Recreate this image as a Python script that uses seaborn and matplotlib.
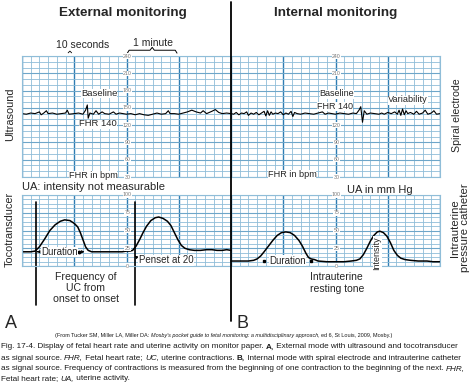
import numpy as np
import pandas as pd
import matplotlib
matplotlib.use("Agg")
import matplotlib.pyplot as plt
import seaborn as sns
from matplotlib.lines import Line2D

# ---------------- data ----------------
# time in seconds along the paper strip (0-240 external, 240-480 internal)
fhr_ext_t = [0, 5, 10, 15, 20, 22, 25, 28, 30, 35, 40, 45, 50, 52, 54, 60, 65, 70, 73, 75, 76, 78,
             82, 85, 88, 92, 95, 100, 105, 108, 112, 116, 120, 125, 130, 135, 140, 145, 150, 155,
             160, 165, 168, 170, 175, 180, 185, 190, 195, 200, 205, 208, 212, 218, 222, 226, 230,
             235, 240]
fhr_ext_v = [140, 139, 141, 140, 143, 138, 141, 145, 140, 141, 139, 140, 141, 146, 139, 140, 141,
             139, 146, 155, 132, 141, 139, 145, 139, 143, 140, 139, 143, 139, 141, 140, 139, 140,
             138, 140, 138, 137, 139, 141, 139, 140, 145, 140, 140, 139, 141, 143, 146, 143, 141,
             145, 140, 144, 147, 142, 140, 141, 140]
fhr_int_t = [240, 243, 246, 249, 252, 255, 258, 260, 263, 266, 269, 272, 275, 278, 280, 282, 284,
             286, 288, 291, 294, 297, 300, 303, 306, 309, 311, 313, 316, 320, 325, 330, 335, 340,
             345, 348, 352, 356, 360, 365, 370, 375, 380, 384, 387, 389, 391, 393, 396, 400, 405,
             410, 413, 416, 420, 424, 428, 431, 433, 435, 437, 439, 441, 443, 446, 450, 453, 456,
             460, 463, 466, 470, 473, 476, 480]
fhr_int_v = [140, 139, 142, 138, 141, 140, 143, 137, 141, 139, 142, 138, 141, 144, 136, 145, 137,
             143, 139, 141, 140, 143, 138, 141, 139, 144, 135, 142, 140, 139, 141, 140, 139, 141,
             143, 139, 141, 140, 139, 141, 140, 139, 141, 140, 146, 152, 125, 145, 139, 141, 140,
             139, 141, 139, 142, 140, 143, 139, 146, 137, 148, 138, 145, 140, 142, 139, 144, 139,
             141, 146, 139, 141, 145, 139, 140]

ua_ext_t = [0, 10, 15, 20, 26, 32, 38, 44, 49, 55, 60, 64, 67, 70, 73, 76, 80, 90, 100, 110, 115,
            120, 124, 127, 131, 135, 139, 143, 148, 153, 157, 162, 167, 171, 175, 179, 183, 187,
            192, 198, 205, 212, 218, 224, 230, 235, 240]
ua_ext_v = [20, 20, 21, 27, 38, 50, 58, 63, 65, 64, 60, 55, 47, 37, 27, 22, 20, 20, 20, 20, 20,
            21, 21, 22, 28, 37, 47, 56, 64, 68, 69, 67, 63, 57, 47, 37, 29, 25, 23, 22, 22, 23,
            23, 22, 22, 23, 22]
ua_int_t = [240, 250, 260, 266, 270, 274, 278, 283, 288, 293, 298, 303, 308, 313, 318, 322, 326,
            329, 332, 336, 340, 350, 360, 370, 378, 384, 388, 392, 396, 400, 404, 408, 411, 415,
            419, 423, 427, 431, 435, 440, 446, 455, 465, 472, 480]
ua_int_v = [7, 7, 7, 8, 10, 14, 20, 28, 36, 43, 47, 48, 47, 43, 36, 28, 18, 12, 10, 9, 7, 6, 6, 6,
            7, 8, 10, 16, 25, 35, 43, 48, 49, 47, 42, 33, 22, 15, 11, 9, 8, 7, 7, 6, 6]

fhr_ticks = [240, 210, 180, 150, 120, 90, 60, 30]
fhr_ticks_hidden_right = [180, 150]   # covered by the "Baseline FHR 140" note
ua_ticks = [100, 75, 50, 25, 0]
label_cols = [120, 360]
onset_marks = [16, 130]

# ---------------- style ----------------
sns.set_style("white")
plt.rcParams["font.family"] = ["Liberation Sans", "DejaVu Sans"]

W, H = 474, 386
fig = plt.figure(figsize=(W / 100, H / 100), dpi=100)
fig.patch.set_facecolor("white")


def fx(px):
    return px / W


def fy(py):
    return 1 - py / H


LIGHT = "#8fbdd8"
MID = "#6ea6c9"
DARK = "#2f7db3"


def paper(ax, ylo, yhi, ymaj, ymin_step):
    ax.set_xlim(0, 480)
    ax.set_ylim(ylo, yhi)
    ax.set_xticks(np.arange(0, 481, 60))
    ax.set_xticks(np.arange(0, 481, 10), minor=True)
    ax.set_yticks(np.arange(ylo, yhi + 0.01, ymaj))
    ax.set_yticks(np.arange(ylo, yhi + 0.01, ymin_step), minor=True)
    ax.grid(which="minor", color=LIGHT, lw=0.6)
    ax.grid(which="major", axis="y", color=MID, lw=0.8)
    ax.grid(which="major", axis="x", color=DARK, lw=1.0)
    ax.tick_params(which="both", length=0, labelbottom=False, labelleft=False)
    for s in ax.spines.values():
        s.set_color(LIGHT)
        s.set_linewidth(0.8)
    ax.set_axisbelow(True)
    ax.set_xlabel("")
    ax.set_ylabel("")


ax_f = fig.add_axes([fx(22), fy(177), 418 / W, (177 - 56) / H])
ax_u = fig.add_axes([fx(22), fy(266), 418 / W, (266 - 195) / H])

df_f = pd.DataFrame({"t": fhr_ext_t + fhr_int_t, "v": fhr_ext_v + fhr_int_v,
                     "seg": ["ext"] * len(fhr_ext_t) + ["int"] * len(fhr_int_t)})
df_u = pd.DataFrame({"t": ua_ext_t + ua_int_t, "v": ua_ext_v + ua_int_v,
                     "seg": ["ext"] * len(ua_ext_t) + ["int"] * len(ua_int_t)})

sns.lineplot(data=df_f, x="t", y="v", units="seg", estimator=None, sort=False,
             color="black", lw=0.8, ax=ax_f)
sns.lineplot(data=df_u, x="t", y="v", units="seg", estimator=None, sort=False,
             color="black", lw=1.1, ax=ax_u)
paper(ax_f, 30, 240, 30, 10)
paper(ax_u, 0, 100, 25, 6.25)

for c in label_cols:
    for v in fhr_ticks:
        if c == label_cols[1] and v in fhr_ticks_hidden_right:
            continue
        ax_f.text(c + 1, v, str(v), fontsize=3.8, color="#777777", ha="center", va="center",
                  bbox=dict(boxstyle="square,pad=0.05", fc="white", ec="none"))
    for v in ua_ticks:
        ax_u.text(c + 1, v, str(v), fontsize=3.8, color="#777777", ha="center", va="center",
                  bbox=dict(boxstyle="square,pad=0.05", fc="white", ec="none"))

# onset marker lines
for t in onset_marks:
    ax_u.axvline(t, ymin=-0.55, ymax=0.9, color="black", lw=1.2, clip_on=False)

# divider line
fig.add_artist(Line2D([fx(231), fx(231)], [fy(2), fy(321)], color="black", lw=1.3))

# brace "1 minute" and caret "10 seconds"
ax_f.plot([121, 123, 147, 149.5, 152, 176, 178], [245, 250, 250, 255, 250, 250, 245],
          color="black", lw=0.7, clip_on=False)
ax_f.plot([53, 55, 57], [245.5, 248.5, 245.5], color="black", lw=0.6, clip_on=False)

# duration arrows
ap = dict(arrowstyle="-|>", color="black", lw=0.6, mutation_scale=4)
ax_u.annotate("", xy=(17, 20), xytext=(21, 20), arrowprops=ap)
ax_u.annotate("", xy=(75, 20), xytext=(66, 20), arrowprops=ap)
ax_u.plot([66], [20], "o", color="black", ms=1.8)
ax_u.text(43, 20, "Duration", fontsize=7, ha="center", va="center",
          bbox=dict(boxstyle="square,pad=0.02", fc="white", ec="none"))
ax_u.plot([278, 332], [7.5, 7.5], "s", color="black", ms=1.8)
ax_u.text(305, 7.5, "Duration", fontsize=7, ha="center", va="center",
          bbox=dict(boxstyle="square,pad=0.02", fc="white", ec="none"))
ax_u.annotate("", xy=(127, 17), xytext=(134, 10), arrowprops=ap)
ax_u.text(134, 8, "Penset at 20", fontsize=7, ha="left", va="center",
          bbox=dict(boxstyle="square,pad=0.02", fc="white", ec="none"))


def T(x, y, s, size=6, **kw):
    kw.setdefault("ha", "center")
    kw.setdefault("va", "center")
    return fig.text(fx(x), fy(y), s, fontsize=size, **kw)


wb = dict(boxstyle="square,pad=0.0", fc="white", ec="none")
T(123, 13, "External monitoring", 9.7, fontweight="bold")
T(336, 13, "Internal monitoring", 9.7, fontweight="bold")
T(83, 45, "10 seconds", 7.5)
T(153, 43, "1 minute", 7.5)
T(99, 93, "Baseline", 6.8, bbox=wb)
T(98, 124, "FHR 140", 6.8, bbox=wb)
T(93, 175, "FHR in bpm", 6.6, bbox=wb)
T(10, 114, "Ultrasound", 7.9, rotation=90)
T(10, 229, "Tocotransducer", 7.8, rotation=90)
T(22, 187, "UA: intensity not measurable", 8, ha="left")
T(86, 288, "Frequency of\nUC from\nonset to onset", 7.6, linespacing=1.1)
T(11, 323, "A", 13)
T(243, 323, "B", 13)
T(337, 94, "Baseline", 6.5, bbox=wb)
T(335, 106.5, "FHR 140", 6.5, bbox=wb)
T(408, 100, "Variability", 6.6, bbox=wb)
T(292, 174, "FHR in bpm", 6.6, bbox=wb)
T(457, 115, "Spiral electrode", 7.6, rotation=90)
T(380, 190, "UA in mm Hg", 8)
T(460, 228, "Intrauterine\npressure catheter", 8.2, rotation=90, linespacing=1.05)
T(310, 283, "Intrauterine\nresting tone", 7.5, ha="left", linespacing=1.15)
T(377, 253, "Intensity", 6.5, rotation=90, bbox=wb)

renderer = fig.canvas.get_renderer()


def seg_width(s, size, style):
    kw = dict(fontsize=size, fontweight="bold" if style == "b" else "normal",
              fontstyle="italic" if style == "i" else "normal")
    a = fig.text(0, 0, "|" + s + "|", **kw)
    b = fig.text(0, 0, "||", **kw)
    w = a.get_window_extent(renderer).width - b.get_window_extent(renderer).width
    a.remove()
    b.remove()
    return w


def rich(x, y, segs, size, color="#1a1a1a", center=False):
    widths = [seg_width(s, size, st) for s, st in segs]
    if center:
        x = x - sum(widths) / 2
    for (s, st), w in zip(segs, widths):
        fig.text(fx(x), fy(y), s, fontsize=size, color=color, ha="left", va="center",
                 fontweight="bold" if st == "b" else "normal",
                 fontstyle="italic" if st == "i" else "normal")
        x += w


rich(224, 336, [("(From Tucker SM, Miller LA, Miller DA: ", "n"),
                ("Mosby's pocket guide to fetal monitoring: a multidisciplinary approach", "i"),
                (", ed 6, St Louis, 2009, Mosby.)", "n")], 3.95, center=True)
cap = 5.9
rich(1, 347, [("Fig. 17-4. Display of fetal heart rate and uterine activity on monitor paper. ", "n"),
              ("A,", "b"), (" External mode with ultrasound and tocotransducer", "n")], cap)
rich(1, 358, [("as signal source. ", "n"), ("FHR,", "i"), (" Fetal heart rate; ", "n"),
              ("UC,", "i"), (" uterine contractions. ", "n"), ("B,", "b"),
              (" Internal mode with spiral electrode and intrauterine catheter", "n")], cap)
rich(1, 368.5, [("as signal source. Frequency of contractions is measured from the beginning of one "
                 "contraction to the beginning of the next. ", "n"), ("FHR,", "i")], cap)
rich(1, 379, [("Fetal heart rate; ", "n"), ("UA,", "i"), (" uterine activity.", "n")], cap)

fig.savefig("out.png", dpi=100)
